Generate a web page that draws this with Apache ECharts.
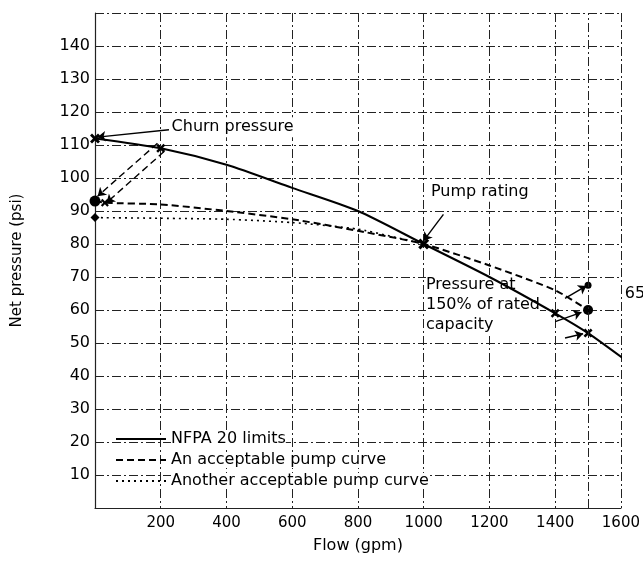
<!DOCTYPE html>
<html>
<head>
<meta charset="utf-8">
<script src="https://cdn.jsdelivr.net/npm/echarts@6/dist/echarts.min.js"></script>
<style>html,body{margin:0;padding:0;background:#fff}#c{width:643px;height:568px}</style>
</head>
<body>
<div id="c"></div>
<script>
// ---- data ----
const nfpaFlow = [0, 200, 400, 600, 800, 1000, 1200, 1400, 1500, 1625];
const nfpaPsi  = [112, 109, 104, 97, 90, 80, 70, 59, 53, 44];

const acceptFlow = [0, 30, 200, 400, 600, 800, 1000, 1200, 1400, 1500];
const acceptPsi  = [93, 92.5, 92, 90, 87.5, 84, 80, 73.5, 66, 60];

const anotherFlow = [0, 200, 400, 600, 800, 1000];
const anotherPsi  = [88, 87.8, 87.5, 86.5, 84.5, 80];

const xTicks = [200, 400, 600, 800, 1000, 1200, 1400, 1600];
const yTicks = [10, 20, 30, 40, 50, 60, 70, 80, 90, 100, 110, 120, 130, 140];
const extraGridX = [1500];

const markerFlow  = [0, 0, 0, 30, 200, 1000, 1400, 1500, 1500, 1500];
const markerPsi   = [112, 93, 88, 92.5, 109, 80, 59, 60, 67.5, 53];
const markerShape = ['x', 'circle', 'diamond', 'x', 'x', 'x', 'x', 'circle', 'circle', 'x'];
const markerSize  = [10, 11, 9, 8, 9, 11, 9, 10, 7, 9];

const arrowFromFlow = [225, 190, 210, 1060, 1430, 1400, 1430];
const arrowFromPsi  = [114.6, 110.5, 108, 89, 63.5, 56.5, 51.5];
const arrowToFlow   = [8, 8, 35, 1000, 1495, 1480, 1485];
const arrowToPsi    = [112.4, 94.5, 92.5, 81, 67.3, 59.3, 52.8];
const arrowDashed   = [false, true, true, false, false, false, false];

const noteFlow = [233, 1022, 1007, 1612];
const notePsi  = [115.4, 95.8, 61.5, 65];
const noteText = ['Churn pressure', 'Pump rating', 'Pressure at\n150% of rated\ncapacity', '65'];

// ---- chart ----
const FONT = 'DejaVu Sans';
const INK = '#000';
const gridLine = { color: '#222', width: 1, type: [9, 3, 2, 3] };
const xShape = 'path://M2,0 L5,3 L8,0 L10,2 L7,5 L10,8 L8,10 L5,7 L2,10 L0,8 L3,5 L0,2 Z';

const zip = (a, b) => a.map((v, i) => [v, b[i]]);

const chart = echarts.init(document.getElementById('c'), null, { renderer: 'canvas' });
chart.setOption({
  animation: false,
  backgroundColor: '#fff',
  textStyle: { fontFamily: FONT, color: INK },
  grid: { left: 95, right: 21, top: 13, bottom: 60 },
  legend: {
    data: ['NFPA 20 limits', 'An acceptable pump curve', 'Another acceptable pump curve'],
    orient: 'vertical', left: 110, top: 426, itemGap: 5, itemWidth: 50, itemHeight: 12,
    itemStyle: { opacity: 0 },
    textStyle: { fontFamily: FONT, fontSize: 16, color: INK, backgroundColor: '#fff' },
    inactiveColor: INK
  },
  xAxis: {
    type: 'value', min: 0, max: 1600, interval: 200,
    name: 'Flow (gpm)', nameLocation: 'middle', nameGap: 30,
    nameTextStyle: { fontFamily: FONT, fontSize: 16, color: INK },
    axisLine: { show: true, lineStyle: { color: '#222', width: 1.2 } },
    axisTick: { show: false },
    axisLabel: { fontFamily: FONT, fontSize: 15, color: INK, margin: 8,
      formatter: v => (xTicks.indexOf(v) >= 0 ? String(v) : '') },
    splitLine: { show: true, lineStyle: gridLine }
  },
  yAxis: {
    type: 'value', min: 0, max: 150, interval: 10,
    name: 'Net pressure (psi)', nameLocation: 'middle', nameGap: 70, nameRotate: 90,
    nameTextStyle: { fontFamily: FONT, fontSize: 15, color: INK },
    axisLine: { show: true, lineStyle: { color: '#222', width: 1.2 } },
    axisTick: { show: false },
    axisLabel: { fontFamily: FONT, fontSize: 16, color: INK, margin: 5,
      formatter: v => (yTicks.indexOf(v) >= 0 ? String(v) : '') },
    splitLine: { show: true, lineStyle: gridLine }
  },
  series: [
    {
      name: 'NFPA 20 limits', type: 'line', data: zip(nfpaFlow, nfpaPsi),
      symbol: 'none', smooth: 0.25, clip: false,
      lineStyle: { color: INK, width: 2, type: 'solid' }, itemStyle: { color: INK },
      markLine: {
        silent: true, symbol: 'none', label: { show: false },
        lineStyle: gridLine,
        data: extraGridX.map(x => ({ xAxis: x }))
      }
    },
    {
      name: 'An acceptable pump curve', type: 'line', data: zip(acceptFlow, acceptPsi),
      symbol: 'none', smooth: 0.2,
      lineStyle: { color: INK, width: 2, type: [7, 4] }, itemStyle: { color: INK }
    },
    {
      name: 'Another acceptable pump curve', type: 'line', data: zip(anotherFlow, anotherPsi),
      symbol: 'none', smooth: 0.2,
      lineStyle: { color: INK, width: 1.6, type: [2, 4] }, itemStyle: { color: INK }
    },
    {
      name: 'markers', type: 'scatter', clip: false,
      data: markerFlow.map((f, i) => ({
        value: [f, markerPsi[i]],
        symbol: markerShape[i] === 'x' ? xShape : markerShape[i],
        symbolSize: markerSize[i]
      })),
      itemStyle: { color: INK, opacity: 1 }
    },
    {
      name: 'arrows', type: 'lines', coordinateSystem: 'cartesian2d',
      symbol: ['none', 'arrow'], symbolSize: 8,
      data: arrowFromFlow.map((f, i) => ({
        coords: [[f, arrowFromPsi[i]], [arrowToFlow[i], arrowToPsi[i]]],
        lineStyle: { type: arrowDashed[i] ? [7, 4] : 'solid' }
      })),
      lineStyle: { color: INK, width: 1.4, curveness: 0, opacity: 1 }
    },
    {
      name: 'notes', type: 'scatter', clip: false, symbol: 'circle', symbolSize: 0.01,
      itemStyle: { color: INK, opacity: 1 },
      data: noteFlow.map((f, i) => ({ value: [f, notePsi[i]], name: noteText[i] })),
      label: {
        show: true, position: 'right', distance: 0, formatter: p => p.name,
        fontFamily: FONT, fontSize: 16, color: '#000', opacity: 1, lineHeight: 20,
        align: 'left', verticalAlign: 'middle', backgroundColor: '#fff'
      }
    }
  ]
});
</script>
</body>
</html>
